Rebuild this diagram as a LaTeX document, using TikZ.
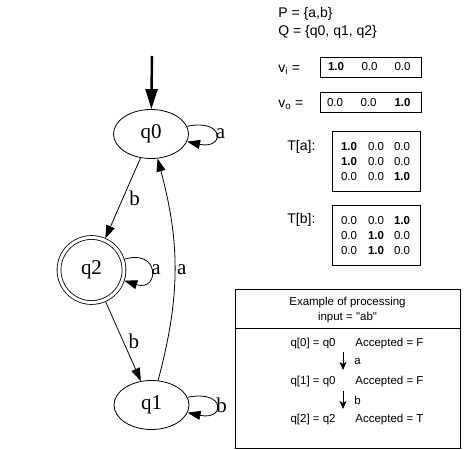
\documentclass[tikz,border=0pt]{standalone}
\usepackage{fontspec}
\setmainfont{Liberation Serif}
\newfontfamily\boxfont{Liberation Sans}
\usetikzlibrary{arrows.meta,shapes.geometric}

\tikzset{
    state/.style={ellipse,draw,minimum width=75pt,minimum height=49pt,inner sep=0pt,
        font=\fontsize{21}{24}\selectfont},
    accepting/.style={circle,draw,double,double distance=3pt,minimum size=65pt,
        inner sep=0pt,outer sep=2pt,font=\fontsize{21}{24}\selectfont},
    trans/.style={-{Triangle[length=13pt,width=9pt]}},
    initarrow/.style={line width=2.5pt,-{Triangle[length=20pt,width=12pt]}},
    lbl/.style={font=\fontsize{21}{24}\selectfont,inner sep=0pt},
    info/.style={font=\boxfont\fontsize{14}{16}\selectfont,anchor=base west,inner sep=0pt},
    num/.style={font=\boxfont\fontsize{11.5}{13}\selectfont,inner sep=0pt},
    boxtext/.style={font=\boxfont\fontsize{11.5}{15}\selectfont,inner sep=0pt},
    vecbox/.style={draw,minimum width=101pt,minimum height=20pt,inner sep=0pt},
    matbox/.style={draw,minimum width=88pt,minimum height=60pt,inner sep=0pt},
    steparrow/.style={-{Stealth[length=8pt,width=7pt,inset=2pt]}}
}

\begin{document}
\begin{tikzpicture}[x=1pt,y=1pt,line width=0.8pt]
    \useasboundingbox (0,0) rectangle (464,-450);

    % automaton
    \node[state] (q0) at (151,-134) {q0};
    \node[accepting] (q2) at (91.5,-270) {q2};
    \node[state] (q1) at (151.5,-405) {q1};
    \coordinate (init) at (152,-56);

    \draw[initarrow] (init) -- (q0);
    \draw[trans] (q0) -- node[lbl,right,xshift=6pt]{b} (q2);
    \draw[trans] (q2) -- node[lbl,right,xshift=5pt]{b} (q1);
    \draw[trans] (q1) to[out=75,in=-75] node[lbl,right,xshift=2pt]{a} (q0);
    \draw[trans] (q0) to[out=12,in=-12,looseness=6.5] node[lbl,right]{a} (q0);
    \draw[trans] (q2) to[out=18,in=-18,looseness=4.5] node[lbl,right]{a} (q2);
    \draw[trans] (q1) to[out=12,in=-12,looseness=6.5] node[lbl,right]{b} (q1);

    % definitions
    \node[info] (alphabet) at (278,-17) {P = \{a,b\}};
    \node[info] (states) at (278,-35) {Q = \{q0, q1, q2\}};

    \node[info] (vilabel) at (278,-72) {v\textsubscript{i} =};
    \node[vecbox] (vi) at (370.5,-67) {};
    \foreach \v/\x [count=\i] in {\textbf{1.0}/336,0.0/369.5,0.0/402.5}
        \node[num] (vi-\i) at (\x,-67) {\v};

    \node[info] (volabel) at (278,-107) {v\textsubscript{o} =};
    \node[vecbox] (vo) at (370.5,-102.5) {};
    \foreach \v/\x [count=\i] in {0.0/335,0.0/368.5,\textbf{1.0}/402.5}
        \node[num] (vo-\i) at (\x,-102.5) {\v};

    \node[info] (talabel) at (287,-150) {T[a]:};
    \node[matbox] (ta) at (376,-161) {};
    \foreach \a/\b/\c [count=\r] in {\textbf{1.0}/0.0/0.0,\textbf{1.0}/0.0/0.0,0.0/0.0/\textbf{1.0}}
        {
            \node[num] (ta-\r-1) at (349,-147-14.8*\r+14.8) {\a};
            \node[num] (ta-\r-2) at (376,-147-14.8*\r+14.8) {\b};
            \node[num] (ta-\r-3) at (402,-147-14.8*\r+14.8) {\c};
        }

    \node[info] (tblabel) at (287,-223) {T[b]:};
    \node[matbox] (tb) at (376,-235) {};
    \foreach \a/\b/\c [count=\r] in {0.0/0.0/\textbf{1.0},0.0/\textbf{1.0}/0.0,0.0/\textbf{1.0}/0.0}
        {
            \node[num] (tb-\r-1) at (349,-221-14.8*\r+14.8) {\a};
            \node[num] (tb-\r-2) at (376,-221-14.8*\r+14.8) {\b};
            \node[num] (tb-\r-3) at (402,-221-14.8*\r+14.8) {\c};
        }

    % processing example
    \node[draw,minimum width=225pt,minimum height=159pt,inner sep=0pt] (example) at (347.5,-368.5) {};
    \draw ([yshift=-40pt]example.north west) -- ([yshift=-40pt]example.north east);
    \node[boxtext,align=center] (extitle) at (347.5,-310.5) {Example of processing\\input = "ab"};

    \foreach \k/\q/\acc in {0/q0/F,1/q0/F,2/q2/T}
        {
            \node[boxtext,anchor=base east] (step\k) at (336,-346-38*\k) {q[\k] = \q};
            \node[boxtext,anchor=base west] (acc\k) at (355,-346-38*\k) {Accepted = \acc};
        }

    \coordinate (s1top) at (343,-352);
    \coordinate (s1bot) at (343,-370);
    \coordinate (s2top) at (343,-391);
    \coordinate (s2bot) at (343,-409);
    \draw[steparrow] (s1top) -- node[boxtext,right=11pt]{a} (s1bot);
    \draw[steparrow] (s2top) -- node[boxtext,right=11pt]{b} (s2bot);
\end{tikzpicture}
\end{document}
